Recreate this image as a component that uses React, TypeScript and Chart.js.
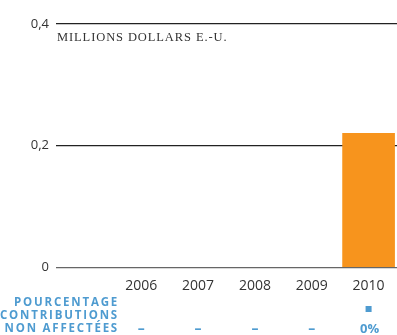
import React, { useEffect, useRef } from "react";
import { Chart, registerables } from "chart.js";

Chart.register(...registerables);

const categories = ["", "2006", "2007", "2008", "2009", "2010"];
const values = [null, null, null, null, null, 0.22];
const unallocatedPct: (number | null)[] = [null, null, null, null, null, 0];
const yTicks = [0, 0.2, 0.4];
const unitLabel = "MILLIONS DOLLARS E.-U.";
const pctLabelLines = ["POURCENTAGE", "CONTRIBUTIONS", "NON AFFECTÉES"];

const BLUE = "#4e9bd0";

const overlay = {
  id: "overlay",
  afterDraw(chart: any) {
    const ctx = chart.ctx;
    const { left, top } = chart.chartArea;
    const x = chart.scales.x;
    ctx.save();
    // unit label
    ctx.fillStyle = "#333";
    ctx.font = "12.5px 'Liberation Serif', serif";
    (ctx as any).letterSpacing = "0.9px";
    ctx.textAlign = "left";
    ctx.textBaseline = "middle";
    ctx.fillText(unitLabel, left + 1, top + 14);
    // percentage label
    ctx.fillStyle = BLUE;
    ctx.font = "bold 11.5px 'Open Sans', sans-serif";
    (ctx as any).letterSpacing = "1.8px";
    ctx.textAlign = "right";
    pctLabelLines.forEach((t, i) => {
      ctx.fillText(t, 119, 303 + i * 13);
    });
    (ctx as any).letterSpacing = "0px";
    ctx.textAlign = "center";
    unallocatedPct.forEach((v, i) => {
      if (i === 0) return;
      const cx = x.getPixelForValue(i);
      if (v === null) {
        ctx.font = "bold 14px 'Open Sans', sans-serif";
        ctx.fillText("–", cx, 329);
      } else {
        ctx.fillRect(cx - 3, 306, 6, 6);
        ctx.font = "bold 13px 'Open Sans', sans-serif";
        ctx.fillText(v + "%", cx + 1, 329);
      }
    });
    ctx.restore();
  },
};

export default function App() {
  const ref = useRef<HTMLCanvasElement>(null);
  useEffect(() => {
    const chart = new Chart(ref.current!, {
      type: "bar",
      data: {
        labels: categories,
        datasets: [
          {
            data: values,
            backgroundColor: "#f7941d",
            barThickness: 52,
          },
        ],
      },
      options: {
        animation: false,
        responsive: false,
        maintainAspectRatio: false,
        layout: { padding: { top: 24, bottom: 39, right: 0, left: 0 } },
        plugins: { legend: { display: false }, tooltip: { enabled: false } },
        scales: {
          x: {
            grid: { display: false },
            border: { display: false },
            ticks: {
              color: "#333",
              font: { family: "'Open Sans', sans-serif", size: 14 },
              padding: 2,
              maxRotation: 0,
              autoSkip: false,
            },
          },
          y: {
            min: 0,
            max: 0.4,
            afterBuildTicks: (s: any) => {
              s.ticks = yTicks.map((v) => ({ value: v }));
            },
            afterFit: (s: any) => {
              s.width = 56;
            },
            border: { display: false },
            grid: {
              drawTicks: false,
              color: (c: any) => (c.tick && c.tick.value === 0 ? "#666" : "#222"),
              lineWidth: 1.2,
            },
            ticks: {
              color: "#333",
              padding: 7,
              font: { family: "'Open Sans', sans-serif", size: 13 },
              callback: (v: any) => String(v).replace(".", ","),
            },
          },
        },
      },
      plugins: [overlay],
    });
    return () => chart.destroy();
  }, []);
  return (
    <div style={{ position: "fixed", left: 0, top: 0, width: 397, height: 335, background: "#fff" }}>
      <canvas ref={ref} width={397} height={335} style={{ width: 397, height: 335 }} />
    </div>
  );
}
